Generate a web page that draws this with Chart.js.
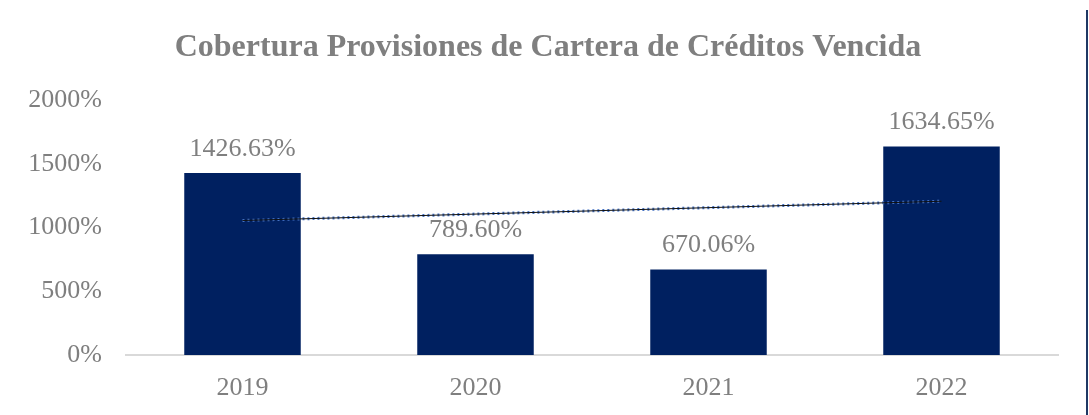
<!DOCTYPE html>
<html>
<head>
<meta charset="utf-8">
<script src="https://cdn.jsdelivr.net/npm/chart.js@4"></script>
<style>
  html, body { margin: 0; padding: 0; background: #fff; }
  #wrap { position: relative; width: 1089px; height: 415px; }
  #edge { position: absolute; left: 1086px; top: 10px; width: 2px; height: 405px; background: #1f3864; }
</style>
</head>
<body>
<div id="wrap">
  <canvas id="myChart" width="1089" height="415"></canvas>
  <div id="edge"></div>
</div>
<script>
// data
let years = ["2019", "2020", "2021", "2022"];
let coverage = [1426.63, 789.60, 670.06, 1634.65];
// linear trend line, endpoints
let trend = [1055, null, null, 1206];
let yTicks = [0, 500, 1000, 1500, 2000];
let titleText = "Cobertura Provisiones de Cartera de Créditos Vencida";

let serif = "'Liberation Serif', 'Times New Roman', serif";
let grey = "#7f7f7f";

// title is a bit right of the canvas centre in the original, so draw it here
let chartTitle = {
  id: "chartTitle",
  afterDraw(chart) {
    let ctx = chart.ctx;
    ctx.save();
    ctx.font = "bold 32px " + serif;
    ctx.fillStyle = grey;
    ctx.textAlign = "center";
    ctx.textBaseline = "middle";
    ctx.fillText(titleText, 548, 48);
    ctx.restore();
  }
};

// draws the value above each bar
let barLabels = {
  id: "barLabels",
  afterDatasetsDraw(chart) {
    let ctx = chart.ctx;
    let meta = chart.getDatasetMeta(0);
    ctx.save();
    ctx.font = "26px " + serif;
    ctx.fillStyle = grey;
    ctx.textAlign = "center";
    ctx.textBaseline = "middle";
    meta.data.forEach(function(bar, i) {
      ctx.fillText(coverage[i].toFixed(2) + "%", bar.x, bar.y - 24);
    });
    ctx.restore();
  }
};

let ctx = document.getElementById("myChart").getContext("2d");
let chart = new Chart(ctx, {
  type: "bar",
  data: {
    labels: years,
    datasets: [
      {
        type: "bar",
        data: coverage,
        backgroundColor: "#002060",
        barPercentage: 0.5,
        categoryPercentage: 1,
        order: 2
      },
      {
        type: "line",
        data: trend,
        spanGaps: true,
        borderColor: "#4472c4",
        borderWidth: 3,
        borderDash: [2, 3],
        pointRadius: 0,
        order: 1
      },
      {
        type: "line",
        data: trend,
        spanGaps: true,
        borderColor: "#111111",
        borderWidth: 1,
        pointRadius: 0,
        order: 0
      }
    ]
  },
  options: {
    responsive: false,
    animation: false,
    layout: { padding: { left: 0, right: 31, top: 100, bottom: 0 } },
    plugins: {
      legend: { display: false },
      tooltip: { enabled: false },
      title: { display: false }
    },
    scales: {
      x: {
        grid: { display: false },
        border: { display: true, color: "#d9d9d9", width: 2 },
        ticks: { color: grey, font: { family: serif, size: 26 }, padding: 10 },
        afterFit: function(scale) { scale.height = 60; }
      },
      y: {
        min: 0,
        max: 2000,
        grid: { display: false },
        border: { display: false },
        afterBuildTicks: function(scale) {
          scale.ticks = yTicks.map(function(v) { return { value: v }; });
        },
        ticks: {
          color: grey,
          font: { family: serif, size: 26 },
          padding: 16,
          callback: function(v) { return v + "%"; }
        },
        afterFit: function(scale) { scale.width = 126; }
      }
    }
  },
  plugins: [barLabels, chartTitle]
});
</script>
</body>
</html>
